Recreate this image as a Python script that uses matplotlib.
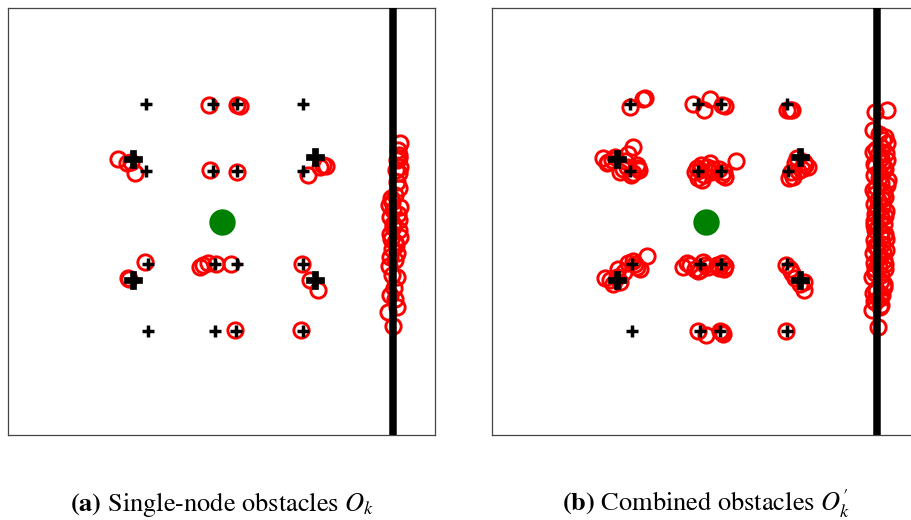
from matplotlib import pyplot as plt

plt.rcParams[ 'font.family' ] = 'STIXGeneral'
plt.rcParams[ 'mathtext.fontset' ] = 'stix'

# robot / goal position
robot_x = [ 0.0 ]
robot_y = [ 0.0 ]

# wall position (x)
wall_x = 4.0

# obstacle nodes (small pluses), same in both panels
node_x = [ -1.77 , -0.19 , 0.35 , 1.90 ,
           -1.77 , -0.19 , 0.35 , 1.91 ,
           -1.73 , -0.15 , 0.35 , 1.90 ,
           -1.73 , -0.15 , 0.33 , 1.90 ]
node_y = [ 2.76 , 2.76 , 2.76 , 2.76 ,
           1.19 , 1.19 , 1.19 , 1.19 ,
           -1.00 , -1.00 , -1.00 , -1.00 ,
           -2.56 , -2.56 , -2.56 , -2.56 ]

# big nodes (filled pluses)
big_x = [ -2.08 , 2.19 , -2.08 , 2.19 ]
big_y = [ 1.46 , 1.52 , -1.37 , -1.37 ]

# (a) single-node obstacle detections
det_a_x = [ -0.29 , 0.37 , 0.43 ,
            -2.41 , -2.22 , -2.02 , -2.12 , -0.27 , 0.36 , 2.03 , 2.30 , 2.38 , 2.44 ,
            -1.79 , -2.19 , -2.16 , -0.50 , -0.43 , -0.31 , -0.13 , 0.22 , 1.88 , 2.07 , 2.26 ,
            0.32 , 1.86 ]
det_a_y = [ 2.74 , 2.73 , 2.70 ,
            1.46 , 1.36 , 1.14 , 1.39 , 1.20 , 1.16 , 1.09 , 1.28 , 1.33 , 1.31 ,
            -0.95 , -1.31 , -1.35 , -1.06 , -1.01 , -0.97 , -0.99 , -1.00 , -1.00 , -1.37 , -1.59 ,
            -2.54 , -2.54 ]

wall_a_x = [ 4.18 , 4.14 , 4.11 , 4.18 , 4.14 , 4.10 , 4.14 , 4.06 , 3.98 , 4.18 ,
             4.02 , 3.94 , 4.14 , 4.02 , 3.94 , 4.18 , 4.06 , 3.98 , 4.10 , 3.94 ,
             4.06 , 3.98 , 4.10 , 3.94 , 4.06 , 4.11 , 3.90 , 4.02 , 4.12 , 3.96 ,
             4.16 , 4.08 , 3.92 , 4.12 , 4.00 , 4.15 , 3.96 , 4.08 , 3.92 , 4.04 ]
wall_a_y = [ 1.84 , 1.56 , 1.44 , 1.28 , 1.13 , 0.93 , 0.78 , 0.62 , 0.46 , 0.35 ,
             0.27 , 0.11 , 0.04 , -0.12 , -0.28 , -0.35 , -0.47 , -0.63 , -0.74 , -0.82 ,
             -0.90 , -1.25 , -1.29 , -1.72 , -1.80 , -1.99 , -2.11 , -2.44 , 1.68 , 0.55 ,
             1.50 , 1.20 , 0.40 , 0.18 , -0.05 , -0.20 , -0.40 , -0.55 , -1.05 , -1.55 ]

# (b) combined obstacle detections
det_b_x = [ -1.78 , -1.48 , -1.43 , -0.30 , 0.08 , -0.06 , 0.37 , 0.43 , 1.89 , 1.96 , 2.00 ,
            -2.40 , -2.32 , -2.21 , -1.70 , -1.82 , -2.01 , -1.70 , -1.58 , -1.62 , -2.13 , -1.86 ,
            -2.30 , -1.95 , -1.75 , -1.60 , -1.90 ,
            -0.26 , -0.18 , -0.14 , 0.02 , 0.09 , 0.17 , 0.37 , 0.41 , 0.70 , -0.10 ,
            -0.22 , -0.05 , 0.12 , 0.30 , 0.45 , -0.12 ,
            1.93 , 2.04 , 2.12 , 2.32 , 2.39 , 2.24 , 2.08 , 1.98 , 2.15 , 2.30 ,
            -1.39 , -1.70 , -1.62 , -1.54 , -1.82 , -2.05 , -2.36 , -2.17 , -2.09 , -2.01 ,
            -1.66 , -1.92 , -2.24 ,
            -0.53 , -0.37 , -0.26 , -0.14 , -0.02 , 0.05 , 0.25 , 0.41 , 0.37 ,
            -0.45 , -0.20 , -0.08 , 0.30 , 0.45 ,
            1.87 , 1.96 , 2.08 , 2.28 , 2.28 , 2.20 , 2.00 ,
            -0.18 , 0.00 , 0.33 , 0.39 , 1.87 , 0.36 ]
det_b_y = [ 2.69 , 2.88 , 2.90 , 2.75 , 2.86 , 2.62 , 2.72 , 2.70 , 2.61 , 2.61 , 2.62 ,
            1.48 , 1.36 , 1.44 , 1.75 , 1.59 , 1.17 , 1.13 , 1.20 , 1.32 , 1.52 , 1.28 ,
            1.40 , 1.22 , 1.08 , 1.25 , 1.42 ,
            1.17 , 1.01 , 1.20 , 1.28 , 1.36 , 1.24 , 1.09 , 1.17 , 1.42 , 0.97 ,
            1.25 , 1.10 , 1.15 , 1.22 , 1.05 , 1.32 ,
            1.01 , 1.05 , 1.48 , 1.32 , 1.28 , 1.24 , 1.36 , 1.15 , 1.18 , 1.40 ,
            -0.81 , -0.92 , -1.06 , -1.10 , -0.98 , -1.10 , -1.31 , -1.45 , -1.29 , -1.41 ,
            -1.00 , -1.18 , -1.36 ,
            -1.06 , -1.02 , -1.10 , -1.13 , -1.02 , -1.06 , -1.02 , -1.12 , -0.98 ,
            -0.98 , -1.15 , -0.95 , -1.08 , -1.05 ,
            -1.02 , -1.12 , -1.33 , -1.41 , -1.59 , -1.45 , -1.20 ,
            -2.56 , -2.65 , -2.56 , -2.62 , -2.56 , -2.58 ]

wall_b_x = [ 3.95 , 4.23 , 3.91 , 4.05 , 4.19 , 4.23 , 4.10 , 3.91 , 4.02 , 4.23 ,
             4.12 , 3.95 , 4.18 , 4.05 , 3.92 , 4.26 , 4.10 , 3.98 , 3.91 , 4.15 ,
             4.19 , 4.02 , 3.92 , 4.12 , 4.20 , 3.96 , 4.08 , 3.92 , 4.16 , 4.02 ,
             3.94 , 4.18 , 4.08 , 3.92 , 4.12 , 4.00 , 4.20 , 3.91 , 4.06 , 4.15 ,
             3.93 , 4.04 , 4.18 , 3.95 , 3.88 , 4.08 , 4.15 , 3.97 , 3.91 , 4.06 ,
             3.95 , 4.10 , 3.88 , 4.03 ,
             4.14 , 3.98 , 4.20 , 4.08 , 3.93 , 4.16 , 4.04 , 4.22 , 3.96 , 4.12 ,
             4.00 , 4.18 , 3.92 , 4.10 , 4.20 , 3.96 , 4.14 , 4.02 , 4.18 , 3.94 ,
             4.08 , 4.16 , 3.98 , 4.12 , 3.92 , 4.06 ]
wall_b_y = [ 2.57 , 2.61 , 2.14 , 2.05 , 1.98 , 1.83 , 1.75 , 1.63 , 1.55 , 1.44 ,
             1.38 , 1.30 , 1.22 , 1.15 , 1.08 , 0.97 , 0.90 , 0.82 , 0.74 , 0.70 ,
             0.58 , 0.50 , 0.42 , 0.35 , 0.25 , 0.18 , 0.10 , 0.02 , -0.05 , -0.12 ,
             -0.20 , -0.28 , -0.35 , -0.44 , -0.52 , -0.60 , -0.66 , -0.74 , -0.82 , -0.90 ,
             -0.98 , -1.06 , -1.12 , -1.20 , -1.29 , -1.38 , -1.53 , -1.58 , -1.68 , -1.78 ,
             -1.88 , -1.95 , -2.07 , -2.46 ,
             1.90 , 1.70 , 1.60 , 1.48 , 1.35 , 1.28 , 1.02 , 0.86 , 0.64 , 0.54 ,
             0.30 , 0.14 , -0.08 , -0.24 , -0.40 , -0.56 , -0.70 , -0.86 , -1.00 , -1.10 ,
             -1.25 , -1.45 , -1.62 , -1.72 , -1.85 , -2.00 ]


def panel( ax , dx , dy , wx , wy ) :

    ax.plot( dx + wx , dy + wy , 'o' , ms = 11 , mfc = 'none' , mec = 'red' , mew = 2.1 , zorder = 2 )
    ax.axvline( wall_x , color = 'black' , lw = 5.4 , zorder = 3 )
    ax.plot( robot_x , robot_y , 'o' , ms = 19 , color = 'green' , mew = 0 , zorder = 3 )
    ax.plot( node_x , node_y , '+' , ms = 9 , color = 'black' , mew = 2.5 , zorder = 4 )
    ax.plot( big_x , big_y , 'P' , ms = 13 , color = 'black' , mew = 0.5 , zorder = 4 )

    ax.set_xlim( -5 , 5 )
    ax.set_ylim( -5 , 5 )
    ax.set_xticks( [] )
    ax.set_yticks( [] )
    for s in ax.spines.values() :
        s.set_color( '#444444' )
        s.set_linewidth( 0.9 )


fig = plt.figure( figsize = ( 9.11 , 5.2 ) , dpi = 100 )

axa = fig.add_axes( [ 0.0085 , 0.163 , 0.4694 , 0.8217 ] )
axb = fig.add_axes( [ 0.5404 , 0.163 , 0.4694 , 0.8217 ] )

panel( axa , det_a_x , det_a_y , wall_a_x , wall_a_y )
panel( axb , det_b_x , det_b_y , wall_b_x , wall_b_y )

fig.text( 0.2433 , 0.018 , r'$\mathbf{(a)}$ Single-node obstacles $O_k$' , ha = 'center' , va = 'baseline' , fontsize = 19 )
fig.text( 0.775 , 0.018 , r'$\mathbf{(b)}$ Combined obstacles $O_k^{\prime}$' , ha = 'center' , va = 'baseline' , fontsize = 19 )

plt.savefig( 'out.png' , dpi = 100 )
